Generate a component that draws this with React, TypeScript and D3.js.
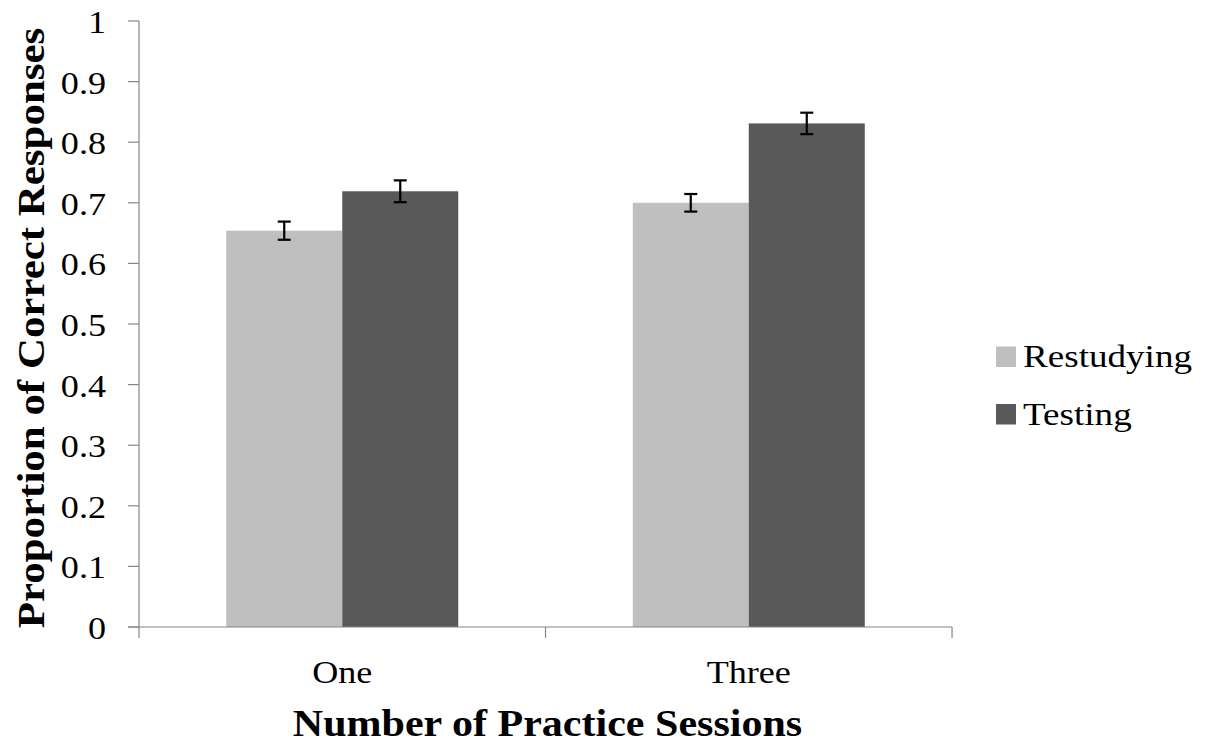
import React from "react";
import * as d3 from "d3";

const categories = ["One", "Three"];
const seriesNames = ["Restudying", "Testing"];
const restudying = [0.654, 0.7];
const testing = [0.719, 0.831];
const restudyingErr = [0.015, 0.0145];
const testingErr = [0.018, 0.0177];
const yTicks = [0, 0.1, 0.2, 0.3, 0.4, 0.5, 0.6, 0.7, 0.8, 0.9, 1];
const colors = ["#BFBFBF", "#595959"];

const W = 1214;
const H = 749;
const left = 139;
const right = 952;
const top = 21;
const bottom = 627;
const SX = 1.13;
const FONT = "'Liberation Serif', 'Times New Roman', serif";

export default function App() {
  const y = d3.scaleLinear().domain([0, 1]).range([bottom, top]);
  const x = d3
    .scaleBand<string>()
    .domain(categories)
    .range([left, right])
    .paddingInner(0.4293)
    .paddingOuter(0.2146);
  const xs = d3.scaleBand<string>().domain(seriesNames).range([0, x.bandwidth()]);
  const values = [restudying, testing];
  const errs = [restudyingErr, testingErr];
  const step = x.step();
  const boundaries = [left, left + step, left + 2 * step];
  const axisColor = "#868686";

  return (
    <svg
      width={W}
      height={H}
      style={{ position: "absolute", left: 0, top: 0, background: "#fff" }}
      fontFamily={FONT}
    >
      <rect x={0} y={0} width={W} height={H} fill="#fff" />
      {seriesNames.map((s, si) =>
        categories.map((c, ci) => {
          const v = values[si][ci];
          const bx = (x(c) as number) + (xs(s) as number);
          return (
            <rect
              key={s + c}
              x={bx}
              y={y(v)}
              width={xs.bandwidth()}
              height={y(0) - y(v)}
              fill={colors[si]}
            />
          );
        })
      )}
      {seriesNames.map((s, si) =>
        categories.map((c, ci) => {
          const v = values[si][ci];
          const e = errs[si][ci];
          const cx = (x(c) as number) + (xs(s) as number) + xs.bandwidth() / 2;
          return (
            <g key={"e" + s + c} stroke="#000" strokeWidth={2.2}>
              <line x1={cx} x2={cx} y1={y(v + e)} y2={y(v - e)} />
              <line x1={cx - 6.5} x2={cx + 6.5} y1={y(v + e)} y2={y(v + e)} />
              <line x1={cx - 6.5} x2={cx + 6.5} y1={y(v - e)} y2={y(v - e)} />
            </g>
          );
        })
      )}
      {/* y axis */}
      <line x1={left} x2={left} y1={top} y2={bottom} stroke={axisColor} strokeWidth={1.2} />
      {yTicks.map((t) => (
        <g key={t}>
          <line x1={left - 11} x2={left} y1={y(t)} y2={y(t)} stroke={axisColor} strokeWidth={1.2} />
          <text
            transform={`translate(106,${y(t) + 12}) scale(${SX},1)`}
            textAnchor="end"
            fontSize={32}
            fill="#000"
          >
            {d3.format("")(t)}
          </text>
        </g>
      ))}
      {/* x axis */}
      <line x1={left - 11} x2={right} y1={bottom} y2={bottom} stroke={axisColor} strokeWidth={1.2} />
      {boundaries.map((b, i) => (
        <line key={i} x1={b} x2={b} y1={bottom} y2={bottom + 11} stroke={axisColor} strokeWidth={1.2} />
      ))}
      {categories.map((c) => (
        <text
          key={c}
          transform={`translate(${(x(c) as number) + x.bandwidth() / 2},683) scale(${SX},1)`}
          textAnchor="middle"
          fontSize={32}
          fill="#000"
        >
          {c}
        </text>
      ))}
      <text
        transform={`translate(${(left + right) / 2 + 2},736) scale(${SX},1)`}
        textAnchor="middle"
        fontSize={37.2}
        fontWeight="bold"
        fill="#000"
      >
        Number of Practice Sessions
      </text>
      <text
        transform={`translate(44,${(top + bottom) / 2 + 4}) rotate(-90) scale(${SX},1)`}
        textAnchor="middle"
        fontSize={38}
        fontWeight="bold"
        fill="#000"
      >
        Proportion of Correct Responses
      </text>
      {/* legend */}
      {seriesNames.map((s, i) => (
        <g key={s} transform={`translate(996,${346.5 + i * 57.5})`}>
          <rect x={0} y={0} width={20} height={20.5} fill={colors[i]} />
          <text transform={`translate(27,20.5) scale(${SX + 0.03},1)`} fontSize={32} fill="#000">
            {s}
          </text>
        </g>
      ))}
    </svg>
  );
}
